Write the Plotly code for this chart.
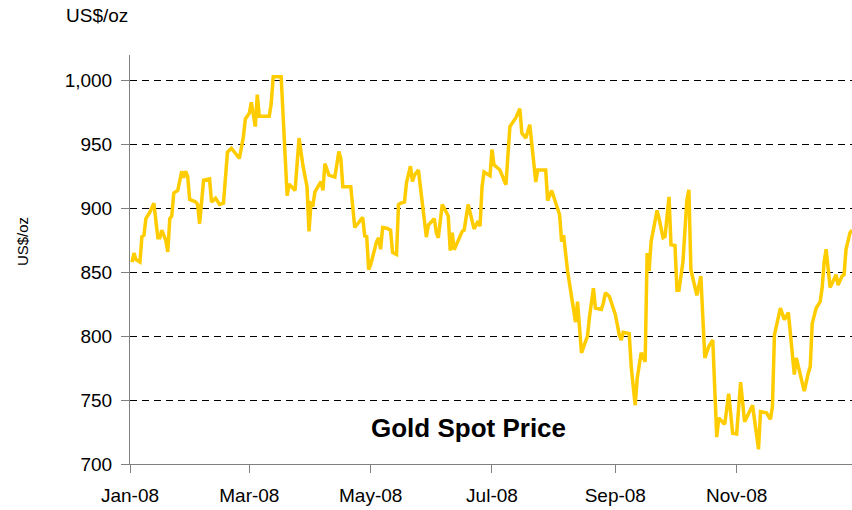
import plotly.graph_objects as go

# Gold spot price, 2008 (vertices)
dates = [
    "2008-01-02", "2008-01-03", "2008-01-04", "2008-01-06", "2008-01-07", "2008-01-08", "2008-01-09",
    "2008-01-11", "2008-01-13", "2008-01-15", "2008-01-16", "2008-01-17", "2008-01-19", "2008-01-20",
    "2008-01-21", "2008-01-22", "2008-01-23", "2008-01-25", "2008-01-27", "2008-01-28", "2008-01-29",
    "2008-01-30", "2008-01-31", "2008-02-03", "2008-02-04", "2008-02-05", "2008-02-07", "2008-02-10",
    "2008-02-11", "2008-02-13", "2008-02-15", "2008-02-17", "2008-02-19", "2008-02-21", "2008-02-25",
    "2008-02-27", "2008-02-28", "2008-03-01", "2008-03-02", "2008-03-04", "2008-03-05", "2008-03-06",
    "2008-03-11", "2008-03-12", "2008-03-13", "2008-03-17", "2008-03-20", "2008-03-21", "2008-03-24",
    "2008-03-26", "2008-03-28", "2008-03-30", "2008-03-31", "2008-04-01", "2008-04-02", "2008-04-03",
    "2008-04-06", "2008-04-07", "2008-04-08", "2008-04-10", "2008-04-13", "2008-04-15", "2008-04-16",
    "2008-04-17", "2008-04-21", "2008-04-23", "2008-04-27", "2008-04-28", "2008-04-29", "2008-04-30",
    "2008-05-01", "2008-05-04", "2008-05-05", "2008-05-06", "2008-05-07", "2008-05-09", "2008-05-11",
    "2008-05-12", "2008-05-14", "2008-05-15", "2008-05-16", "2008-05-18", "2008-05-19", "2008-05-21",
    "2008-05-22", "2008-05-23", "2008-05-25", "2008-05-27", "2008-05-29", "2008-05-30", "2008-06-02",
    "2008-06-03", "2008-06-04", "2008-06-06", "2008-06-09", "2008-06-10", "2008-06-11", "2008-06-12",
    "2008-06-16", "2008-06-17", "2008-06-18", "2008-06-19", "2008-06-22", "2008-06-24", "2008-06-25",
    "2008-06-26", "2008-06-27", "2008-06-30", "2008-07-01", "2008-07-02", "2008-07-05", "2008-07-08",
    "2008-07-10", "2008-07-13", "2008-07-15", "2008-07-16", "2008-07-18", "2008-07-20", "2008-07-23",
    "2008-07-24", "2008-07-28", "2008-07-29", "2008-07-31", "2008-08-04", "2008-08-05", "2008-08-06",
    "2008-08-08", "2008-08-12", "2008-08-13", "2008-08-15", "2008-08-18", "2008-08-19", "2008-08-21",
    "2008-08-22", "2008-08-25", "2008-08-26", "2008-08-27", "2008-08-29", "2008-09-01", "2008-09-03",
    "2008-09-04", "2008-09-05", "2008-09-08", "2008-09-09", "2008-09-11", "2008-09-12", "2008-09-14",
    "2008-09-16", "2008-09-17", "2008-09-18", "2008-09-19", "2008-09-22", "2008-09-23", "2008-09-25",
    "2008-09-26", "2008-09-28", "2008-09-29", "2008-10-01", "2008-10-02", "2008-10-03", "2008-10-05",
    "2008-10-07", "2008-10-08", "2008-10-09", "2008-10-12", "2008-10-14", "2008-10-16", "2008-10-18",
    "2008-10-20", "2008-10-22", "2008-10-23", "2008-10-25", "2008-10-26", "2008-10-28", "2008-10-30",
    "2008-11-01", "2008-11-03", "2008-11-05", "2008-11-09", "2008-11-12", "2008-11-13", "2008-11-16",
    "2008-11-18", "2008-11-19", "2008-11-20", "2008-11-23", "2008-11-25", "2008-11-27", "2008-11-30",
    "2008-12-01", "2008-12-05", "2008-12-07", "2008-12-08", "2008-12-09", "2008-12-11", "2008-12-13",
    "2008-12-14", "2008-12-15", "2008-12-16", "2008-12-18", "2008-12-21", "2008-12-22", "2008-12-24",
    "2008-12-25", "2008-12-26", "2008-12-28", "2008-12-29",
]

prices = [
    858, 865, 860, 858, 878, 879, 892,
    897, 904, 877, 877, 883, 875, 866,
    892, 894, 912, 914, 929, 924, 929,
    925, 907, 905, 903, 888, 922, 923,
    905, 908, 903, 904, 944, 947, 939,
    956, 970, 974.5, 983, 964, 989, 972,
    972, 982, 1003, 1003, 910, 919, 914,
    955, 933, 917, 882, 904, 903, 913,
    921, 914, 935, 926, 924.5, 944.5, 939,
    917, 917, 885, 893, 878.5, 878, 852,
    856, 874, 877, 868, 885, 884.5, 883,
    865.5, 864, 903, 904, 905, 920, 933,
    921, 926, 930, 901.5, 877.5, 887, 892,
    881, 877, 903, 894, 867, 881, 867.5,
    882, 883, 895, 903, 884, 890, 886,
    917, 928.5, 925.5, 946, 934, 930, 918.5,
    964, 971, 978, 959, 955, 965.5, 920.6,
    930, 930, 906, 914, 895, 874, 879,
    851, 811, 827, 787, 800, 815, 837.6,
    822, 821, 826, 834, 831, 817, 801,
    797, 803, 802, 776, 746, 767, 787,
    780, 865, 851, 874, 898.5, 892, 877,
    878, 909, 871.5, 871, 836, 836, 858,
    907, 914.5, 852, 832, 847, 783, 792,
    797, 721, 736, 733, 731, 755, 724,
    723.5, 764, 733, 746, 711.5, 741, 740,
    735, 745, 801, 822, 813, 818.5, 770,
    783, 757, 771, 776, 810, 822, 827,
    838, 858, 868, 838, 848, 840, 847,
    848, 868, 881, 883,
]

y_ticks = [700, 750, 800, 850, 900, 950, 1000]
x_tick_dates = ["2008-01-01", "2008-03-01", "2008-05-01", "2008-07-01", "2008-09-01", "2008-11-01"]
x_tick_labels = ["Jan-08", "Mar-08", "May-08", "Jul-08", "Sep-08", "Nov-08"]

FONT = "Liberation Sans, Arial, sans-serif"

fig = go.Figure()
fig.add_trace(go.Scatter(
    x=dates, y=prices, mode="lines",
    line=dict(color="#FFCC00", width=3.5),
    hoverinfo="x+y", showlegend=False,
))

fig.update_layout(
    width=852, height=510,
    margin=dict(l=130, r=0, t=55, b=46),
    paper_bgcolor="white", plot_bgcolor="white",
    font=dict(family=FONT, size=19, color="black"),
    xaxis=dict(
        type="date",
        range=["2008-01-01", "2008-12-29"],
        tickvals=x_tick_dates, ticktext=x_tick_labels,
        showgrid=False, zeroline=False,
        showline=True, linecolor="#808080", linewidth=1,
        ticks="outside", ticklen=8, tickcolor="#808080", tickwidth=1,
        tickfont=dict(family=FONT, size=19, color="black"),
        ticklabelstandoff=6,
    ),
    yaxis=dict(
        range=[700, 1020],
        tickvals=y_ticks, tickformat=",",
        showgrid=True, gridcolor="#000000", gridwidth=1, griddash="7px,5px",
        zeroline=False,
        showline=True, linecolor="#808080", linewidth=1,
        ticks="outside", ticklen=8, tickcolor="#808080", tickwidth=1,
        tickfont=dict(family=FONT, size=19, color="black"),
        ticklabelstandoff=5,
    ),
    annotations=[
        dict(text="US$/oz", xref="paper", yref="paper", x=0, y=1.067,
             xanchor="right", yanchor="bottom", showarrow=False,
             font=dict(family=FONT, size=19, color="black")),
        dict(text="US$/oz", xref="paper", yref="paper", x=-0.1496, y=0.545,
             xanchor="center", yanchor="middle", textangle=-90, showarrow=False,
             font=dict(family=FONT, size=15, color="black")),
        dict(text="<b>Gold Spot Price</b>", xref="paper", yref="paper", x=0.4695, y=0.088,
             xanchor="center", yanchor="middle", showarrow=False,
             font=dict(family=FONT, size=26, color="black")),
    ],
)

# remove the browser's default 8px page margin so the figure fills the window exactly
fig.write_html(
    "out.html",
    config={"displayModeBar": False},
    post_script="document.body.style.margin='0';document.body.style.overflow='hidden';",
)
